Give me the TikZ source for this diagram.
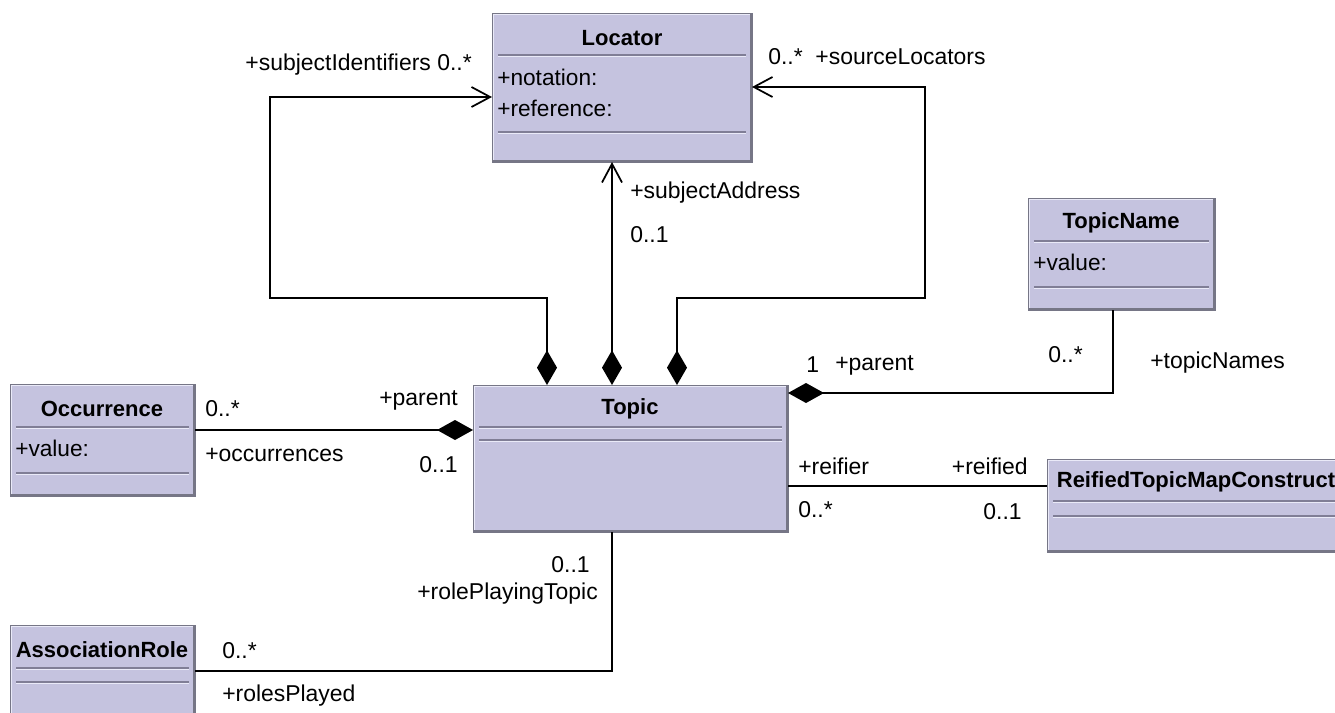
\documentclass[tikz,border=0pt]{standalone}
\usepackage{fontspec}
\setmainfont{Liberation Sans}
\usetikzlibrary{arrows.meta,calc}

\definecolor{classfill}{RGB}{197,195,223}
\definecolor{classedge}{RGB}{118,118,134}
\definecolor{classhi}{RGB}{234,234,248}
\definecolor{classsep}{RGB}{128,126,150}

\tikzset{
  classbox/.style={rectangle, draw=classedge, line width=0.6pt, fill=classfill, inner sep=0pt, outer sep=0pt},
  classtitle/.style={font=\bfseries\fontsize{16.5}{19}\selectfont, inner sep=0pt},
  attr/.style={font=\fontsize{17}{19}\selectfont, anchor=west, inner sep=0pt},
  rolelabel/.style={font=\fontsize{17.2}{19}\selectfont, inner sep=0pt},
  link/.style={draw=black, line width=1.3pt},
  owned/.style={link, arrows={Diamond[length=26pt,width=15pt]-Straight Barb[length=14pt,width=15pt]}},
  partofh/.style={link, arrows={-Diamond[length=27pt,width=15pt]}}
}

% class rectangle with a raised border: name, x1, y1, x2, y2 (pixel units)
\newcommand\umlclass[5]{%
  \node[classbox, minimum width={(#4-#2)*0.75pt}, minimum height={(#5-#3)*0.75pt}]
    (#1) at ({(#2+#4)/2},{(#3+#5)/2}) {};
  \draw[classhi, line width=1pt]
    ($(#1.south west)+(1.1pt,1.1pt)$) |- ($(#1.north east)+(-1.1pt,-1.1pt)$);
  \draw[classedge, line width=1.6pt]
    ($(#1.south west)+(1.1pt,1pt)$) -| ($(#1.north east)+(-1pt,-1.1pt)$);
}
% compartment divider: x1, x2, y
\newcommand\umlsep[3]{%
  \draw[classsep, line width=0.9pt] (#1,#3) -- (#2,#3);
  \draw[classhi, line width=0.9pt] (#1,#3+1.6) -- (#2,#3+1.6);
}

\begin{document}
\begin{tikzpicture}[x=0.75pt,y=-0.75pt]
\useasboundingbox (0,0) rectangle (1335,713);
\fill[white] (0,0) rectangle (1335,713);
\clip (0,0) rectangle (1335,713);

% ---- classes ----
\umlclass{locator}{492}{13}{752}{162}
\node[classtitle] (locatorT) at (622,38) {Locator};
\umlsep{498}{746}{55}
\node[attr] (locN) at (497,77) {+notation:};
\node[attr] (locR) at (497,108) {+reference:};
\umlsep{498}{746}{132}

\umlclass{topic}{473}{385}{788}{532}
\node[classtitle] (topicT) at (630,409) {Topic};
\umlsep{479}{782}{427}
\umlsep{479}{782}{440}

\umlclass{occurrence}{10}{384}{195}{496}
\node[classtitle] (occT) at (102,409) {Occurrence};
\umlsep{16}{189}{427}
\node[attr] (occV) at (15,448) {+value:};
\umlsep{16}{189}{473}

\umlclass{topicname}{1028}{198}{1215}{310}
\node[classtitle] (tnT) at (1121,223) {TopicName};
\umlsep{1034}{1209}{241}
\node[attr] (tnV) at (1033,262) {+value:};
\umlsep{1034}{1209}{287}

\umlclass{reified}{1047}{459}{1345}{552}
\node[classtitle] (reT) at (1196,482) {ReifiedTopicMapConstruct};
\umlsep{1053}{1339}{501}
\umlsep{1053}{1339}{516}

\umlclass{assocrole}{10}{625}{195}{730}
\node[classtitle] (arT) at (102,650) {AssociationRole};
\umlsep{16}{189}{668}
\umlsep{16}{189}{682}

% ---- routing points ----
\coordinate (sidX) at (547,0);
\coordinate (sidBend) at (270,298);
\coordinate (sidEnd) at (0,97);
\coordinate (saX) at (612,0);
\coordinate (slX) at (677,0);
\coordinate (slBend) at (925,298);
\coordinate (slEnd) at (0,87);
\coordinate (tnX) at (1113,0);
\coordinate (tnY) at (0,393);
\coordinate (occY) at (0,430);
\coordinate (reY) at (0,486);
\coordinate (arY) at (0,671);

% ---- associations ----
\draw[owned] (topic.north -| sidX) |- (sidBend) |- (locator.west |- sidEnd);
\draw[owned] (topic.north -| saX) -- (locator.south -| saX);
\draw[owned] (topic.north -| slX) |- (slBend) |- (locator.east |- slEnd);
\draw[partofh] (topicname.south -| tnX) |- (topic.east |- tnY);
\draw[partofh] (occurrence.east |- occY) -- (topic.west |- occY);
\draw[link] (topic.east |- reY) -- (reified.west |- reY);
\draw[link] (topic.south -| saX) |- (assocrole.east |- arY);

% ---- association end labels ----
\node[rolelabel, anchor=east] (lSid) at (472,65) {+subjectIdentifiers 0..*};
\node[rolelabel, anchor=west] (lSl) at (768,57) {0..*\ \ +sourceLocators};
\node[rolelabel, anchor=west] (lSa) at (630,193) {+subjectAddress};
\node[rolelabel, anchor=west] (lSaM) at (630,235) {0..1};

\node[rolelabel, anchor=west] (lTnM1) at (806,365) {1};
\node[rolelabel, anchor=west] (lTnP) at (835,365) {+parent};
\node[rolelabel, anchor=west] (lTnM) at (1048,355) {0..*};
\node[rolelabel, anchor=west] (lTnR) at (1150,363) {+topicNames};

\node[rolelabel, anchor=west] (lRf) at (798,466) {+reifier};
\node[rolelabel, anchor=east] (lRd) at (1028,466) {+reified};
\node[rolelabel, anchor=west] (lRfM) at (798,510) {0..*};
\node[rolelabel, anchor=east] (lRdM) at (1022,512) {0..1};

\node[rolelabel, anchor=west] (lOcM) at (205,409) {0..*};
\node[rolelabel, anchor=west] (lOcR) at (205,455) {+occurrences};
\node[rolelabel, anchor=east] (lOcP) at (458,400) {+parent};
\node[rolelabel, anchor=east] (lOcPM) at (458,465) {0..1};

\node[rolelabel, anchor=east] (lRpM) at (590,565) {0..1};
\node[rolelabel, anchor=east] (lRp) at (598,594) {+rolePlayingTopic};
\node[rolelabel, anchor=west] (lArM) at (222,651) {0..*};
\node[rolelabel, anchor=west] (lAr) at (222,696) {+rolesPlayed};
\end{tikzpicture}
\end{document}
